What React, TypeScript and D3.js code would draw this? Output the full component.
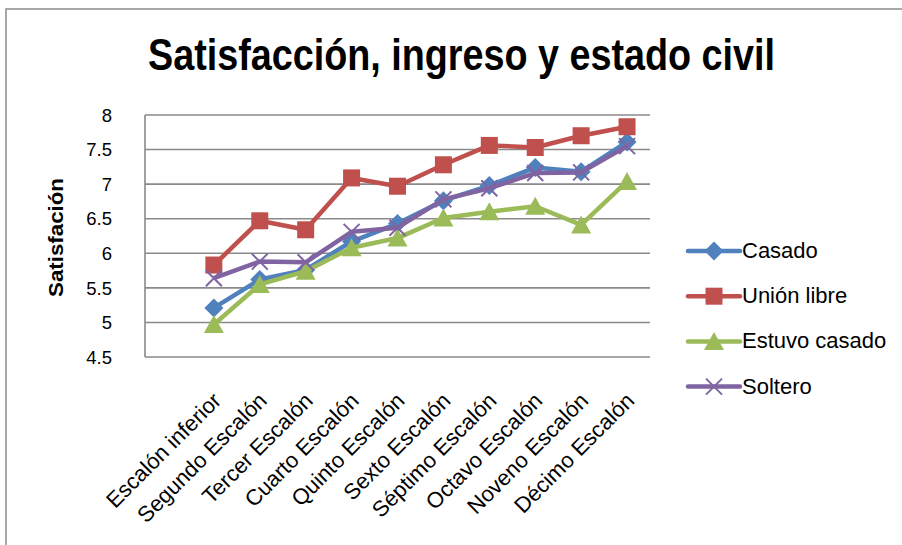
import React from "react";
import * as d3 from "d3";

const categories = [
  "Escalón inferior",
  "Segundo Escalón",
  "Tercer Escalón",
  "Cuarto Escalón",
  "Quinto Escalón",
  "Sexto Escalón",
  "Séptimo Escalón",
  "Octavo Escalón",
  "Noveno Escalón",
  "Décimo Escalón",
];

const casado = [5.21, 5.62, 5.76, 6.17, 6.43, 6.76, 6.98, 7.24, 7.18, 7.61];
const unionLibre = [5.83, 6.47, 6.34, 7.09, 6.97, 7.28, 7.56, 7.53, 7.7, 7.83];
const estuvoCasado = [4.97, 5.55, 5.74, 6.08, 6.22, 6.51, 6.6, 6.68, 6.41, 7.04];
const soltero = [5.64, 5.88, 5.87, 6.31, 6.37, 6.78, 6.94, 7.16, 7.17, 7.55];

const yTicks = [4.5, 5, 5.5, 6, 6.5, 7, 7.5, 8];

const seriesNames = ["Casado", "Unión libre", "Estuvo casado", "Soltero"];
const seriesValues = [casado, unionLibre, estuvoCasado, soltero];
const seriesColors = ["#4F81BD", "#C0504D", "#9BBB59", "#8064A2"];
const seriesMarkers = ["diamond", "square", "triangle", "x"];

const W = 902;
const H = 545;
const FONT = "'Liberation Sans', Arial, sans-serif";

function Marker({ type, x, y, color }: { type: string; x: number; y: number; color: string }) {
  if (type === "diamond") {
    const r = 9.5;
    return (
      <path
        d={`M${x},${y - r}L${x + r},${y}L${x},${y + r}L${x - r},${y}Z`}
        fill={color}
      />
    );
  }
  if (type === "square") {
    const s = 17;
    return <rect x={x - s / 2} y={y - s / 2} width={s} height={s} fill={color} />;
  }
  if (type === "triangle") {
    const w = 20;
    const h = 17;
    return (
      <path
        d={`M${x},${y - h / 2 - 1}L${x + w / 2},${y + h / 2}L${x - w / 2},${y + h / 2}Z`}
        fill={color}
      />
    );
  }
  const r = 8;
  return (
    <path
      d={`M${x - r},${y - r}L${x + r},${y + r}M${x - r},${y + r}L${x + r},${y - r}`}
      stroke={color}
      strokeWidth={2}
    />
  );
}

export default function App() {
  const left = 145;
  const right = 650;
  const top = 115;
  const bottom = 357;

  const x = d3
    .scaleBand<string>()
    .domain(["", ...categories])
    .range([left, right])
    .paddingInner(0)
    .paddingOuter(0);
  const cx = (c: string) => (x(c) as number) + x.bandwidth() / 2;

  const y = d3.scaleLinear().domain([4.5, 8]).range([bottom, top]);

  const line = d3
    .line<number>()
    .x((_, i) => cx(categories[i]))
    .y((d) => y(d));

  const legendX0 = 688;
  const legendX1 = 740;
  const legendY0 = 251;
  const legendStep = 45.2;

  return (
    <svg
      width={W}
      height={H}
      style={{ position: "absolute", left: 0, top: 0, background: "#fff" }}
    >
      <rect x={0} y={0} width={W} height={H} fill="#fff" />
      {/* chart border */}
      <path d={`M6,${H + 2}L6,9L${W + 2},9`} fill="none" stroke="#8c8c8c" strokeWidth={1.5} />

      {/* title */}
      <text
        x={461.5}
        y={70}
        textAnchor="middle"
        fontFamily={FONT}
        fontWeight="bold"
        fontSize={45}
        textLength={627}
        lengthAdjust="spacingAndGlyphs"
        fill="#000"
      >
        Satisfacción, ingreso y estado civil
      </text>

      {/* gridlines */}
      {yTicks.map((t) => (
        <line
          key={t}
          x1={left}
          x2={right}
          y1={y(t)}
          y2={y(t)}
          stroke="#8a8a8a"
          strokeWidth={1.6}
        />
      ))}
      <line x1={left} x2={left} y1={top} y2={bottom} stroke="#8a8a8a" strokeWidth={1.6} />

      {/* y tick labels */}
      {yTicks.map((t) => (
        <text
          key={t}
          x={112}
          y={y(t)}
          dy="0.36em"
          textAnchor="end"
          fontFamily={FONT}
          fontSize={18.5}
          fill="#000"
        >
          {String(t)}
        </text>
      ))}

      {/* y axis title */}
      <text
        transform={`translate(63,237.5) rotate(-90)`}
        textAnchor="middle"
        fontFamily={FONT}
        fontWeight="bold"
        fontSize={21}
        textLength={119}
        lengthAdjust="spacingAndGlyphs"
        fill="#000"
      >
        Satisfación
      </text>

      {/* x labels */}
      {categories.map((c) => (
        <text
          key={c}
          transform={`translate(${cx(c) + 8.5},402) rotate(-45)`}
          textAnchor="end"
          fontFamily={FONT}
          fontSize={22}
          fill="#000"
        >
          {c}
        </text>
      ))}

      {/* series */}
      {seriesValues.map((vals, si) => (
        <g key={seriesNames[si]}>
          <path
            d={line(vals) || ""}
            fill="none"
            stroke={seriesColors[si]}
            strokeWidth={4.5}
            strokeLinejoin="round"
          />
          {vals.map((v, i) => (
            <Marker
              key={i}
              type={seriesMarkers[si]}
              x={cx(categories[i])}
              y={y(v)}
              color={seriesColors[si]}
            />
          ))}
        </g>
      ))}

      {/* legend */}
      {seriesNames.map((n, si) => {
        const ly = legendY0 + si * legendStep;
        return (
          <g key={n}>
            <line
              x1={legendX0}
              x2={legendX1}
              y1={ly}
              y2={ly}
              stroke={seriesColors[si]}
              strokeWidth={4.5}
              strokeLinecap="round"
            />
            <Marker
              type={seriesMarkers[si]}
              x={(legendX0 + legendX1) / 2}
              y={ly}
              color={seriesColors[si]}
            />
            <text
              x={742}
              y={ly}
              dy="0.32em"
              fontFamily={FONT}
              fontSize={22}
              fill="#000"
            >
              {n}
            </text>
          </g>
        );
      })}
    </svg>
  );
}
